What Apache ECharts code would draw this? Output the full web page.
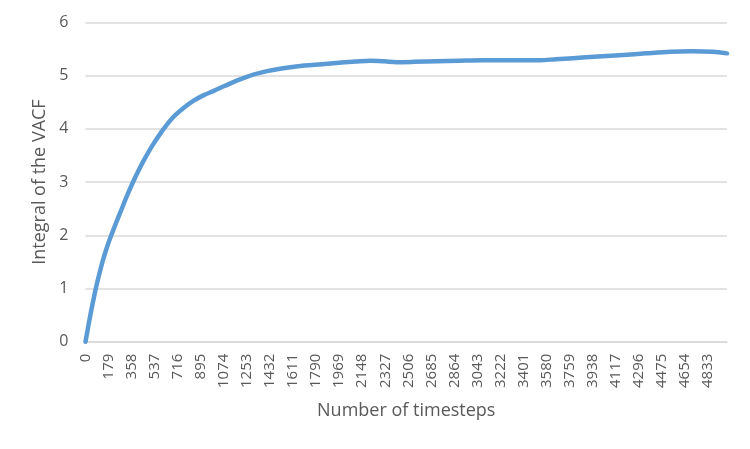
<!DOCTYPE html>
<html>
<head>
<meta charset="utf-8">
<script src="https://cdn.jsdelivr.net/npm/echarts@6/dist/echarts.min.js"></script>
<style>
  html, body { margin: 0; padding: 0; background: #fff; }
  #chart { width: 750px; height: 449px; }
</style>
</head>
<body>
<div id="chart"></div>
<script>
// values
const timesteps = [0, 20, 40, 60, 80, 110, 140, 170, 200, 240, 280, 320, 363, 410, 460, 520,
  604, 680, 759, 840, 915, 1000, 1083, 1190, 1303, 1420, 1535, 1700, 1922, 2100, 2210,
  2320, 2416, 2550, 2727, 2900, 3087, 3300, 3529, 3650, 3786, 3980, 4175, 4350, 4538, 4700,
  4872, 4980];
const vacfIntegral = [0, 0.27, 0.53, 0.77, 1.0, 1.3, 1.57, 1.8, 2.0, 2.25, 2.49, 2.73,
  2.97, 3.21, 3.44, 3.69, 3.99, 4.22, 4.39, 4.53, 4.63, 4.72, 4.81, 4.92, 5.02, 5.09, 5.14,
  5.19, 5.235, 5.265, 5.28, 5.27, 5.255, 5.26, 5.27, 5.28, 5.29, 5.29, 5.29, 5.31, 5.33,
  5.36, 5.39, 5.42, 5.45, 5.46, 5.45, 5.42];
const xTickStep = 179;
const xMax = 4980;
const yTicks = [0, 1, 2, 3, 4, 5, 6];

const font = '"Open Sans", sans-serif';
const textColor = '#595959';
const gridColor = '#d9d9d9';

const chart = echarts.init(document.getElementById('chart'));
chart.setOption({
  animation: false,
  grid: { left: 85.5, right: 23, top: 22.5, bottom: 107.3 },
  xAxis: {
    type: 'value',
    min: 0,
    max: xMax,
    interval: xTickStep,
    name: 'Number of timesteps',
    nameLocation: 'middle',
    nameGap: 60,
    nameTextStyle: { color: textColor, fontFamily: font, fontSize: 18 },
    axisLine: { show: true, lineStyle: { color: gridColor, width: 1.5 } },
    axisTick: { show: false },
    splitLine: { show: false },
    axisLabel: {
      rotate: 90,
      margin: 12,
      showMaxLabel: false,
      color: textColor,
      fontFamily: font,
      fontSize: 15,
      formatter: v => String(v)
    }
  },
  yAxis: {
    type: 'value',
    min: yTicks[0],
    max: yTicks[yTicks.length - 1],
    interval: 1,
    name: 'Integral of the VACF',
    nameLocation: 'middle',
    nameGap: 37,
    nameTextStyle: { color: textColor, fontFamily: font, fontSize: 18 },
    axisLine: { show: false },
    axisTick: { show: false },
    splitLine: { lineStyle: { color: gridColor, width: 1.5 } },
    axisLabel: { margin: 17, color: textColor, fontFamily: font, fontSize: 16 }
  },
  series: [{
    type: 'line',
    data: timesteps.map((t, i) => [t, vacfIntegral[i]]),
    smooth: 0.3,
    showSymbol: false,
    lineStyle: { color: '#5B9BD5', width: 4.5, cap: 'round', join: 'round' }
  }]
});
</script>
</body>
</html>
